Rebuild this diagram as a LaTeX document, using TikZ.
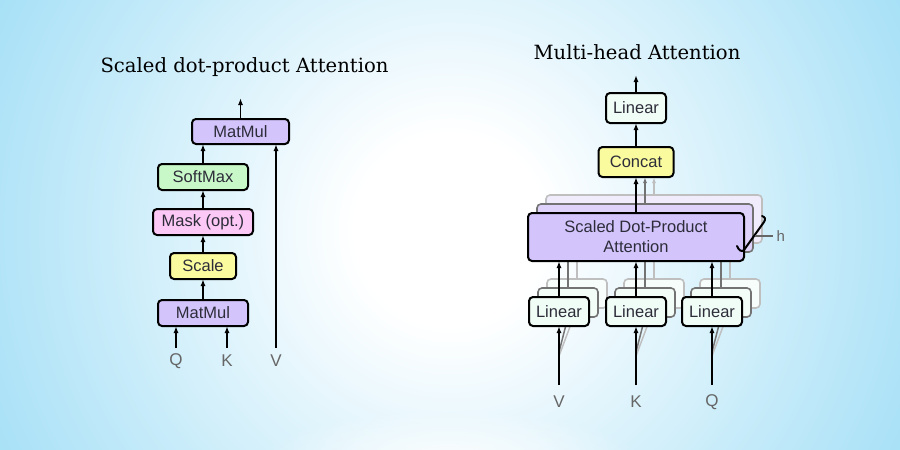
\documentclass[tikz,border=0pt]{standalone}
\usepackage{fontspec}
\newfontfamily\titlefont{DejaVu Serif}
\newfontfamily\boxfont{Liberation Sans}
\usetikzlibrary{arrows.meta,fadings}
\tikzfading[name=glowfade, inner color=transparent!0, outer color=transparent!100]
\definecolor{bgblue}{RGB}{115,206,241}
\definecolor{bgmid}{RGB}{192,233,249}
\definecolor{purp}{RGB}{211,196,252}
\definecolor{purpa}{RGB}{222,210,250}
\definecolor{purpb}{RGB}{240,236,252}
\definecolor{grn}{RGB}{200,247,200}
\definecolor{pnk}{RGB}{252,200,245}
\definecolor{yel}{RGB}{250,250,158}
\definecolor{lin}{RGB}{240,252,246}
\definecolor{txt}{RGB}{45,45,58}
\pgfdeclareradialshading{bgshade}{\pgfpoint{0bp}{0bp}}{color(0bp)=(white); color(4bp)=(white); color(16bp)=(bgmid); color(32bp)=(bgblue); color(50bp)=(bgblue)}
\begin{document}
\begin{tikzpicture}[x=1pt,y=-1pt,
  box/.style={draw=black, line width=2pt, rounded corners=4pt, inner sep=0pt, outer sep=0pt, text=txt, font=\boxfont\fontsize{16.5}{20}\selectfont, align=center},
  ghosta/.style={draw=black!55, line width=1.6pt, rounded corners=4pt, inner sep=0pt, outer sep=0pt},
  ghostb/.style={draw=black!25, line width=1.6pt, rounded corners=4pt, inner sep=0pt, outer sep=0pt},
  arr/.style={-{Latex[length=7pt,width=5pt]}, line width=1.8pt},
  arra/.style={-{Latex[length=6pt,width=4pt]}, line width=1.5pt, black!55},
  arrb/.style={-{Latex[length=6pt,width=4pt]}, line width=1.5pt, black!25},
  lnka/.style={line width=1.5pt, black!55},
  lnkb/.style={line width=1.5pt, black!25},
  lbl/.style={text=black!60, font=\boxfont\fontsize{17}{20}\selectfont},
  ttl/.style={font=\titlefont\fontsize{19.6}{22}\selectfont, text=black}
]
\useasboundingbox (0,0) rectangle (900,450);
\begin{scope}
  \clip (0,0) rectangle (900,450);
  \shade[shading=bgshade] (-150,-370) rectangle (1050,830);
  \fill[white, path fading=glowfade, fill opacity=0.9] (450,460) ellipse (190 and 50);
\end{scope}

% ---------- titles
\node[ttl] (t1) at (244.5,67) {Scaled dot-product Attention};
\node[ttl] (t2) at (637,52) {Multi-head Attention};

% ---------- left: scaled dot-product attention
\node[box, fill=purp, minimum width=97pt, minimum height=25pt] (mm2) at (240.5,131.5) {MatMul};
\node[box, fill=grn, minimum width=90pt, minimum height=26pt] (sm) at (203,177) {SoftMax};
\node[box, fill=pnk, minimum width=100pt, minimum height=26pt] (mask) at (203,222) {Mask (opt.)};
\node[box, fill=yel, minimum width=66pt, minimum height=26pt] (scale) at (203,266) {Scale};
\node[box, fill=purp, minimum width=90pt, minimum height=26pt] (mm1) at (203,313) {MatMul};

\coordinate (out1) at (240.5,98);
\coordinate (qa) at (176,348);
\coordinate (ka) at (227,348);
\coordinate (va) at (276,348);
\node[lbl] (ql) at (176,361) {Q};
\node[lbl] (kl) at (227,361) {K};
\node[lbl] (vl) at (276,361) {V};

\draw[arr] (mm1.north) -- (scale.south);
\draw[arr] (scale.north) -- (mask.south);
\draw[arr] (mask.north) -- (sm.south);
\draw[arr] (sm.north) -- (sm.north |- mm2.south);
\draw[arr] (mm2.north) -- (out1);
\draw[arr] (qa) -- (qa |- mm1.south);
\draw[arr] (ka) -- (ka |- mm1.south);
\draw[arr] (va) -- (va |- mm2.south);

% ---------- right: multi-head attention
\coordinate (vin) at (559,385);
\coordinate (kin) at (636,385);
\coordinate (qin) at (712,385);

% layer b (farthest)
\node[ghostb, fill=purpb, minimum width=216pt, minimum height=48pt] (sdpab) at (654,219) {};
\foreach \n/\x in {V/559,K/636,Q/712}{
  \node[ghostb, fill=lin!60!white, minimum width=60pt, minimum height=29pt] (lin\n b) at (\x+18,293.5) {};
  \draw[lnkb] (lin\n b.north) -- (lin\n b.north |- sdpab.south);
  \draw[lnkb] (\x,356) -- (lin\n b.south);
}

% layer a
\node[ghosta, fill=purpa, minimum width=216pt, minimum height=48pt] (sdpaa) at (645,228) {};
\foreach \n/\x in {V/559,K/636,Q/712}{
  \node[ghosta, fill=lin!80!white, minimum width=60pt, minimum height=29pt] (lin\n a) at (\x+9,302.5) {};
  \draw[lnka] (lin\n a.north) -- (lin\n a.north |- sdpaa.south);
  \draw[lnka] (\x,352) -- (lin\n a.south);
}

% main layer
\node[box, fill=purp, minimum width=216pt, minimum height=48pt] (sdpa) at (636,237) {Scaled Dot-Product\\Attention};
\node[box, fill=lin, minimum width=60pt, minimum height=29pt] (linV) at (559,311.5) {Linear};
\node[box, fill=lin, minimum width=60pt, minimum height=29pt] (linK) at (636,311.5) {Linear};
\node[box, fill=lin, minimum width=60pt, minimum height=29pt] (linQ) at (712,311.5) {Linear};
\node[box, fill=yel, minimum width=75pt, minimum height=30pt] (concat) at (636,162) {Concat};
\node[box, fill=lin, minimum width=60pt, minimum height=30pt] (linO) at (636,108) {Linear};
\coordinate (out2) at (636,75);

\draw[arra] (sdpaa.north) -- (sdpaa.north |- concat.south);
\draw[arrb] (sdpab.north) -- (sdpab.north |- concat.south);
\draw[arr] (sdpa.north) -- (concat.south);
\draw[arr] (concat.north) -- (linO.south);
\draw[arr] (linO.north) -- (out2);
\draw[arr] (linV.north) -- (linV.north |- sdpa.south);
\draw[arr] (linK.north) -- (linK.north |- sdpa.south);
\draw[arr] (linQ.north) -- (linQ.north |- sdpa.south);
\draw[arr] (vin) -- (linV.south);
\draw[arr] (kin) -- (linK.south);
\draw[arr] (qin) -- (linQ.south);

\node[lbl] (vl2) at (559,402) {V};
\node[lbl] (kl2) at (636,402) {K};
\node[lbl] (ql2) at (712,402) {Q};

% h bracket
\draw[line width=2pt, line cap=round] (737,246) .. controls (739,251) and (742,252) .. (744,250) -- (764,222) .. controls (766,219) and (765,217) .. (762,216);
\node[text=black!60, font=\boxfont\fontsize{15}{18}\selectfont, anchor=west] (hl) at (773,236) {h};
\draw[line width=1.5pt, black!60] (hl.west) -- ++(-18,0);
\end{tikzpicture}
\end{document}
